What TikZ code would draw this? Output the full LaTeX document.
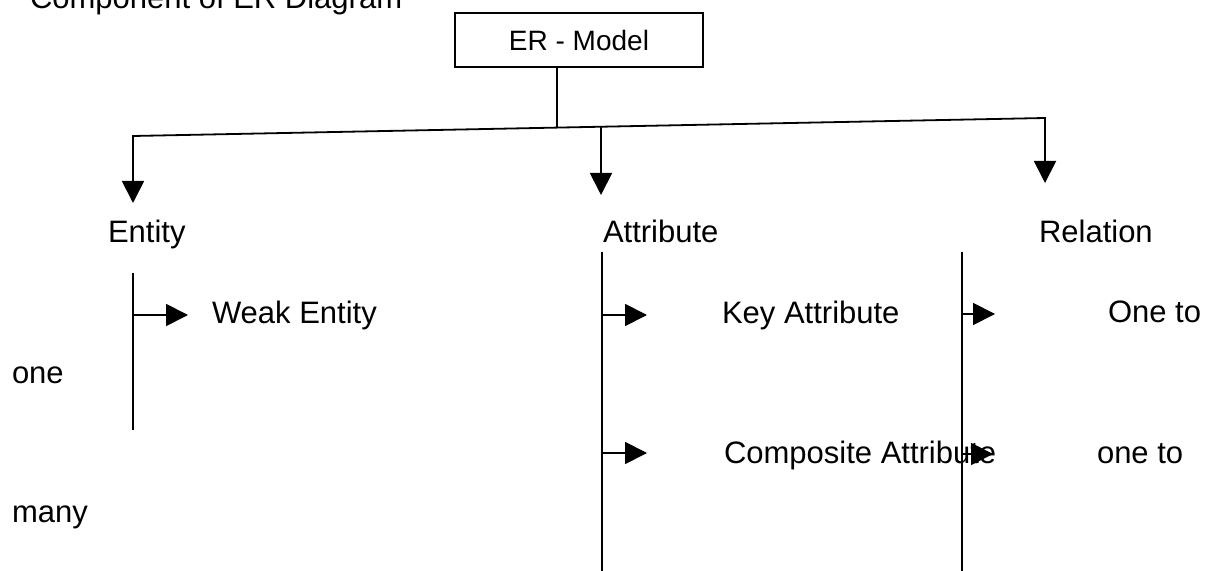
\documentclass[tikz,border=0pt]{standalone}
\usepackage{fontspec}
\setmainfont{Liberation Sans}
\usepackage{tikz}
\usetikzlibrary{arrows.meta, positioning}

\begin{document}
\begin{tikzpicture}[x=0.5pt,y=-0.5pt,line width=0.9pt,
        >={Triangle[width=11pt,length=11pt]},
        every node/.style={inner sep=0pt,outer sep=0pt}]
        \tikzstyle{label text}=[anchor=base west,font=\fontsize{15.5}{18}\selectfont]
        \tikzstyle{model box}=[draw=black,minimum width=124pt,minimum height=27pt,font=\fontsize{14}{16}\selectfont]
        \useasboundingbox (0,0) rectangle (1208,571);

        % heading and root box
        \node[label text](title) at (30,9) {Component of ER Diagram};
        \node[model box](model) at (579,40) {ER - Model};

        % junctions on the top rail
        \coordinate (hub) at (557,127.6);
        \coordinate (entTop) at (133,136);
        \coordinate (attrTop) at (601,126.8);
        \coordinate (relTop) at (1045,118);
        \coordinate (entTip) at (133,203);
        \coordinate (attrTip) at (601,195);
        \coordinate (relTip) at (1045,183);

        % second level
        \node[label text](ent) at (108,243) {Entity};
        \node[label text](attr) at (603,243) {Attribute};
        \node[label text](rel) at (1039,243) {Relation};

        % third level
        \node[label text](weak) at (212,323) {Weak Entity};
        \node[label text](keyattr) at (722,323) {Key Attribute};
        \node[label text](onetoone) at (1108,322) {One to};
        \node[label text](one) at (12,383) {one};
        \node[label text](comp) at (724,463) {Composite Attribute};
        \node[label text](onetomany) at (1097,463) {one to};
        \node[label text](many) at (12,522) {many};

        % branch rails
        \coordinate (entA) at (133,273);
        \coordinate (entB) at (133,430);
        \coordinate (attrA) at (602,252);
        \coordinate (attrB) at (602,571);
        \coordinate (relA) at (962,252);
        \coordinate (relB) at (962,571);

        \draw ([xshift=-11pt]model.south) -- (hub);
        \draw[->] (hub) -- (entTop) -- (entTip);
        \draw[->] (hub) -- (relTop) -- (relTip);
        \draw[->] (attrTop) -- (attrTip);

        \draw (entA) -- (entB);
        \draw (attrA) -- (attrB);
        \draw (relA) -- (relB);

        \draw[->] (133,315) -- (188,315);
        \draw[->] (602,315) -- (647,315);
        \draw[->] (602,453) -- (647,453);
        \draw[->] (962,314) -- (995,314);
        \draw[->] (962,454) -- (993,454);
      \end{tikzpicture}
\end{document}
